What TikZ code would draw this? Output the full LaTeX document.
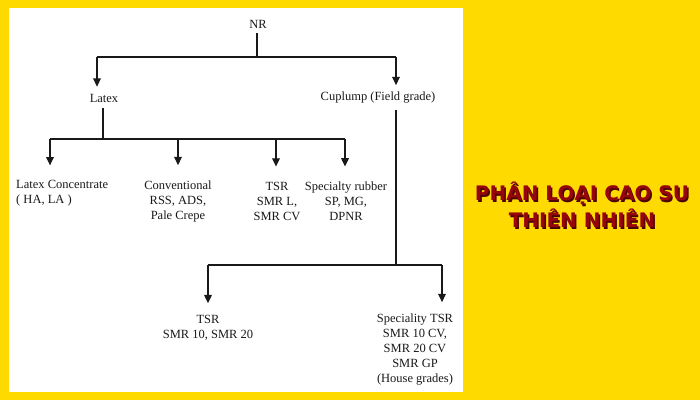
\documentclass[tikz,border=0pt]{standalone}
\usepackage{fontspec}
\setmainfont{Liberation Serif}
\newfontfamily\titlefont{DejaVu Sans}
\usetikzlibrary{arrows.meta,positioning,calc}
\definecolor{gold}{RGB}{255,218,0}
\definecolor{ruby}{RGB}{150,5,12}
\definecolor{ink}{RGB}{25,25,25}
\tikzset{
  >={Triangle[length=2.9mm,width=2.7mm]},
  lbl/.style={font=\fontsize{12.5}{15}\selectfont,text=ink,align=center,inner sep=1pt},
  link/.style={draw=ink,line width=1.2pt},
  arr/.style={link,->,shorten >=#1},
  arr/.default=5pt,
  ttl/.style={font=\titlefont\bfseries\fontsize{20}{27}\selectfont,align=center,inner sep=0pt},
}
\begin{document}
\begin{tikzpicture}[x=1pt,y=-1pt]
  \fill[gold] (0,0) rectangle (700,400);
  \fill[white] (9,8) rectangle (463,392);
  \useasboundingbox (0,0) rectangle (700,400);
  % labels
  \node[lbl] (nr) at (258,24) {NR};
  \node[lbl] (latex) at (104,98) {Latex};
  \node[lbl] (cup) at (378,98) {Cuplump (Field grade)};
  \node[lbl,align=left,anchor=west] (lc) at (15,193.5) {Latex Concentrate\\( HA, LA )};
  \node[lbl] (conv) at (178,201) {Conventional\\RSS, ADS,\\Pale Crepe};
  \node[lbl] (tsra) at (277,201) {TSR\\SMR L,\\SMR CV};
  \node[lbl] (spec) at (346,201) {Specialty rubber\\SP, MG,\\DPNR};
  \node[lbl] (tsrb) at (208,328) {TSR\\SMR 10, SMR 20};
  \node[lbl] (stsr) at (415,350) {Speciality TSR\\SMR 10 CV,\\SMR 20 CV\\SMR GP\\(House grades)};
  % junctions
  \coordinate (ja) at (97,57);
  \coordinate (jb) at (396,57);
  \coordinate (jn) at (257,57);
  \coordinate (jc) at (103,139);
  \coordinate (jd) at (50,139);
  \coordinate (jt) at (276,139);
  \coordinate (je) at (345,139);
  \coordinate (jf) at (396,265);
  \coordinate (jg) at (208,265);
  \coordinate (jh) at (442,265);
  % NR
  \draw[link,shorten <=4pt] (nr.south -| jn) -- (jn);
  \draw[link] (ja) -- (jb);
  \draw[arr=6pt] (ja) -- (ja |- latex.north);
  \draw[arr=6pt] (jb) -- (jb |- cup.north);
  % Latex
  \draw[link,shorten <=5pt] (latex.south -| jc) -- (jc);
  \draw[link] (jd) -- (je);
  \draw[arr=14pt] (jd) -- (jd |- lc.north);
  \draw[arr=14pt] (conv.north |- jd) -- (conv.north);
  \draw[arr=14pt] (jt) -- (jt |- tsra.north);
  \draw[arr=14pt] (je) -- (je |- spec.north);
  % Cuplump
  \draw[link,shorten <=5pt] (cup.south -| jf) -- (jf);
  \draw[link] (jg) -- (jh);
  \draw[arr=11pt] (jg) -- (tsrb.north);
  \draw[arr=11pt] (jh) -- (jh |- stsr.north);
  % title
  \node[ttl,text=ruby!50!black] (shade) at (583.5,206.5) {PHÂN LOẠI CAO SU\\THIÊN NHIÊN};
  \node[ttl,text=ruby] (title) at (582,205) {PHÂN LOẠI CAO SU\\THIÊN NHIÊN};
\end{tikzpicture}
\end{document}
